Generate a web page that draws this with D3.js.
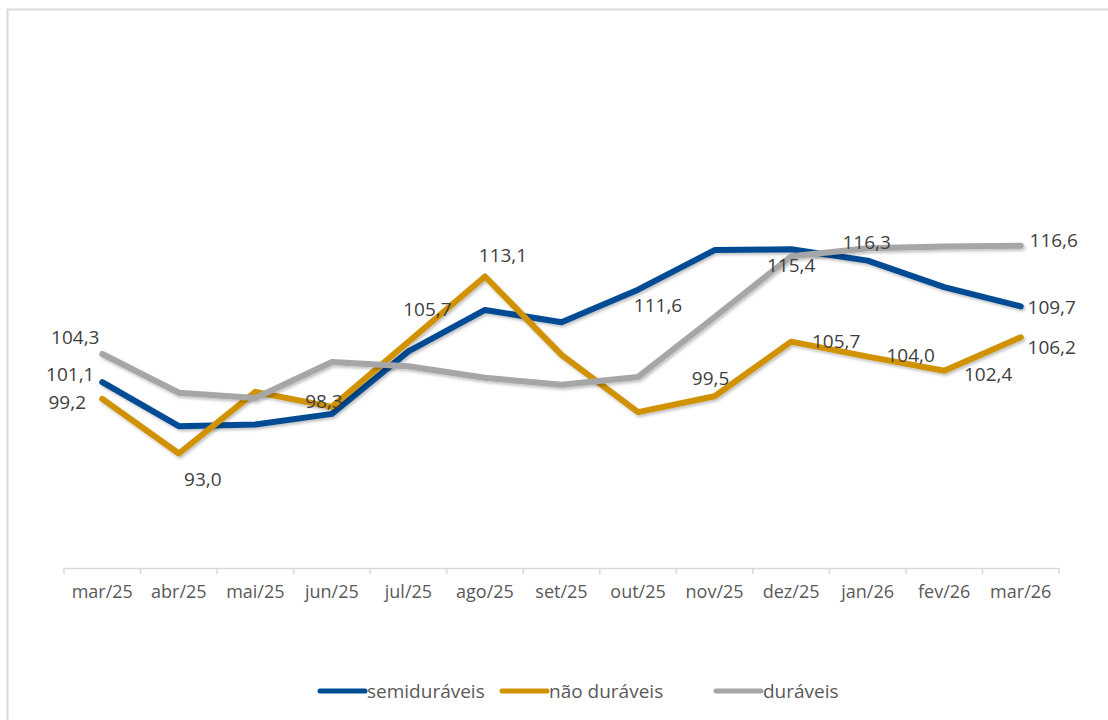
<!DOCTYPE html>
<html>
<head>
<meta charset="utf-8">
<script src="https://cdn.jsdelivr.net/npm/d3@7"></script>
<style>
  body { margin: 0; background: #fff; }
  svg { display: block; font-family: "Open Sans", "Liberation Sans", sans-serif; }
</style>
</head>
<body>
<div id="chart"></div>
<script>
// months on the x axis
const months = ["mar/25", "abr/25", "mai/25", "jun/25", "jul/25", "ago/25", "set/25",
    "out/25", "nov/25", "dez/25", "jan/26", "fev/26", "mar/26"];

const seriesNames = ["semiduráveis", "não duráveis", "duráveis"];
const semiduraveis = [101.1, 96.1, 96.3, 97.5, 104.6, 109.3, 107.9, 111.6, 116.1, 116.2, 114.9, 111.9, 109.7];
const naoDuraveis = [99.2, 93.0, 100.0, 98.3, 105.7, 113.1, 104.2, 97.7, 99.5, 105.7, 104.0, 102.4, 106.2];
const duraveis = [104.3, 99.9, 99.3, 103.4, 102.9, 101.6, 100.8, 101.7, 108.5, 115.4, 116.3, 116.5, 116.6];

// which points get a data label: [series index, month index]
const labelled = [[0, 0], [0, 7], [0, 12],
    [1, 0], [1, 1], [1, 3], [1, 4], [1, 5], [1, 8], [1, 9], [1, 10], [1, 11], [1, 12],
    [2, 0], [2, 9], [2, 10], [2, 12]];

const colors = ["#004C93", "#D09200", "#A6A6A6"];
// label offsets from the point (Excel had them dragged by hand)
const labelOffsets = {
    "0-0": [-32, -8], "0-7": [20, 15], "0-12": [31, 1],
    "1-0": [-35, 3], "1-1": [24, 25], "1-3": [-8, -6], "1-4": [19, -33], "1-5": [18, -21],
    "1-8": [-4, -18], "1-9": [45, -1], "1-10": [43, -2], "1-11": [44, 3], "1-12": [31, 10],
    "2-0": [-27, -17], "2-9": [0, 9], "2-10": [-1, -6], "2-12": [33, -6]
};

const W = 1108, H = 720;
const font = "'Open Sans', 'Liberation Sans', sans-serif";
const allSeries = [semiduraveis, naoDuraveis, duraveis];

const svg = d3.select("#chart").append("svg").attr("width", W).attr("height", H);

const defs = svg.append("defs");
defs.append("filter").attr("id", "shadow")
    .attr("x", "-5%").attr("y", "-5%").attr("width", "110%").attr("height", "120%")
    .append("feDropShadow")
    .attr("dx", 1.5).attr("dy", 2).attr("stdDeviation", 1.5)
    .attr("flood-color", "#000").attr("flood-opacity", 0.25);

// outer frame
svg.append("rect")
    .attr("x", 7.5).attr("y", 9.5).attr("width", W).attr("height", H)
    .attr("fill", "none").attr("stroke", "#d9d9d9").attr("stroke-width", 2);

const x = d3.scaleBand().domain(months).range([64, 1059]);
const y = d3.scaleLinear().domain([80, 140]).range([568, 39.6]);

// x axis
const xAxis = svg.append("g").attr("transform", "translate(0,568)")
    .call(d3.axisBottom(x).tickSize(0).tickPadding(17))
    .attr("font-family", font)
    .attr("font-size", 18);
xAxis.select(".domain").attr("stroke", "#d9d9d9").attr("stroke-width", 1.5);
xAxis.selectAll(".tick text").attr("fill", "#595959");

// tick marks at band edges
const edges = months.map(m => x(m)).concat([x.range()[1]]);
xAxis.selectAll(".edge").data(edges).join("line")
    .attr("class", "edge")
    .attr("x1", d => d).attr("x2", d => d)
    .attr("y1", 0).attr("y2", 6)
    .attr("stroke", "#d9d9d9").attr("stroke-width", 1.5);

const line = d3.line()
    .x((d, i) => x(months[i]) + x.bandwidth() / 2)
    .y(d => y(d));

svg.append("g").selectAll("path").data(allSeries).join("path")
    .attr("d", line)
    .attr("fill", "none")
    .attr("stroke", (d, i) => colors[i])
    .attr("stroke-width", 6)
    .attr("stroke-linejoin", "round")
    .attr("stroke-linecap", "round")
    .attr("filter", "url(#shadow)");

// data labels
const fmt = v => d3.format(".1f")(v).replace(".", ",");
svg.append("g").selectAll("text").data(labelled).join("text")
    .attr("x", d => x(months[d[1]]) + x.bandwidth() / 2 + labelOffsets[d[0] + "-" + d[1]][0])
    .attr("y", d => y(allSeries[d[0]][d[1]]) + labelOffsets[d[0] + "-" + d[1]][1])
    .attr("text-anchor", "middle")
    .attr("dominant-baseline", "central")
    .attr("fill", "#404040")
    .style("font-size", "19px")
    .text(d => fmt(allSeries[d[0]][d[1]]));

// legend
const legendX = [318, 500, 714];
const legend = svg.append("g").selectAll("g").data(seriesNames).join("g")
    .attr("transform", (d, i) => "translate(" + legendX[i] + ",691)");
legend.append("line")
    .attr("x1", 2).attr("x2", 47).attr("y1", 0).attr("y2", 0)
    .attr("stroke", (d, i) => colors[i]).attr("stroke-width", 5)
    .attr("stroke-linecap", "round");
legend.append("text")
    .attr("x", 49).attr("y", 0)
    .attr("dominant-baseline", "central")
    .attr("fill", "#595959")
    .style("font-size", "19px")
    .text(d => d);
</script>
</body>
</html>
